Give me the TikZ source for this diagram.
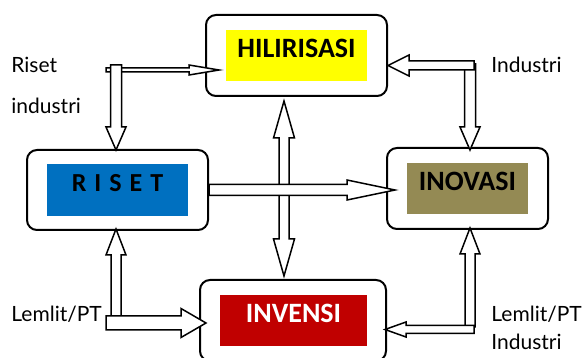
\documentclass[tikz,border=0pt]{standalone}
\usepackage{fontspec}
\setmainfont{Lato}
\newfontfamily\boxfont{Carlito}
\usetikzlibrary{calc, positioning}

\definecolor{hilirfill}{HTML}{FFFF00}
\definecolor{risetfill}{HTML}{0070C0}
\definecolor{inovfill}{HTML}{948A54}
\definecolor{invenfill}{HTML}{C00000}

% block arrow: #1 -> #2, shaft half width #3, head half width #4, head length #5
\newcommand{\blkarrow}[5]{%
  \coordinate (hb) at ($(#2)!#5!(#1)$);
  \draw[blk] ($(#1)!#3!90:(#2)$) -- ($(hb)!#3!90:(#2)$) -- ($(hb)!#4!90:(#2)$) -- (#2)
    -- ($(hb)!#4!-90:(#2)$) -- ($(hb)!#3!-90:(#2)$) -- ($(#1)!#3!-90:(#2)$) -- cycle;
}
% block arrow with two heads
\newcommand{\blkdarrow}[5]{%
  \coordinate (ha) at ($(#1)!#5!(#2)$);
  \coordinate (hb) at ($(#2)!#5!(#1)$);
  \draw[blk] (#1) -- ($(ha)!#4!90:(#2)$) -- ($(ha)!#3!90:(#2)$) -- ($(hb)!#3!90:(#2)$)
    -- ($(hb)!#4!90:(#2)$) -- (#2) -- ($(hb)!#4!-90:(#2)$) -- ($(hb)!#3!-90:(#2)$)
    -- ($(ha)!#3!-90:(#2)$) -- ($(ha)!#4!-90:(#2)$) -- cycle;
}

\begin{document}
\begin{tikzpicture}[x=0.5pt, y=-0.5pt,
    outer/.style={draw, line width=1pt, rounded corners=5pt, inner sep=0pt},
    inner/.style={inner sep=0pt, font=\boxfont\bfseries\fontsize{14}{16}\selectfont,
      text height=9pt, text depth=7pt},
    blk/.style={draw, fill=white, line width=0.75pt, line join=miter},
    lbl/.style={anchor=base west, inner sep=0pt, font=\fontsize{10.5}{12}\selectfont}]
    \useasboundingbox (0,0) rectangle (585,358);

    % kotak
    \node[outer, minimum width=90.5pt, minimum height=40.5pt] (hilir) at (296.5,55.5) {};
    \node[outer, minimum width=90.5pt, minimum height=40pt] (riset) at (117.5,190) {};
    \node[outer, minimum width=80.5pt, minimum height=40.5pt] (inov) at (467.5,188.5) {};
    \node[outer, minimum width=93pt, minimum height=40.5pt] (inven) at (293,320.5) {};

    \node[inner, fill=hilirfill, minimum width=70.5pt, minimum height=25.5pt] (hilirin) at (hilir) {HILIRISASI};
    \node[inner, fill=risetfill, minimum width=70.5pt, minimum height=26pt,
      font=\boxfont\bfseries\fontsize{13}{15}\selectfont] (risetin) at (riset)
      {R\hspace{4pt}I\hspace{4pt}S\hspace{4pt}E\hspace{4pt}T};
    \node[inner, fill=inovfill, minimum width=60.5pt, minimum height=25.5pt] (inovin) at (inov) {INOVASI};
    \node[inner, fill=invenfill, text=white, minimum width=73.5pt, minimum height=25.5pt] (invenin) at ([xshift=0.25pt]inven) {INVENSI};

    % label
    \node[lbl] (lriset) at (11,73) {Riset};
    \node[lbl] (lindus) at (11,114) {industri};
    \node[lbl] (rindus) at (491,73) {Industri};
    \node[lbl] (llemlit) at (11,322) {Lemlit/PT};
    \node[lbl] (rlemlit) at (491,322) {Lemlit/PT};
    \node[lbl] (rindus2) at (491,350) {Industri};

    % titik sudut panah
    \coordinate (ri1) at (106,70);
    \coordinate (ri2) at (116,65);
    \coordinate (in1) at (474,65.5);
    \coordinate (in2) at (470,64);
    \coordinate (lp1) at (116,320);
    \coordinate (lp2) at (106,323);
    \coordinate (li1) at (470,327);
    \coordinate (li2) at (474,329.5);

    \coordinate (t1) at ($(ri1 -| hilir.west)+(14,0)$);
    \coordinate (t2) at ($(ri2 |- riset.north)+(0,1)$);
    \coordinate (t3) at (in1 -| hilir.east);
    \coordinate (t4) at ($(in2 |- inov.north)+(0,3)$);
    \coordinate (ct) at ($(hilir.south)+(-12.5,4)$);
    \coordinate (cb) at ($(ct |- inven.north)+(0,-3)$);
    \coordinate (t5) at ($(riset.east -| inov.west)+(9,0)$);
    \coordinate (t6) at ($(lp1 |- riset.south)+(0,-2)$);
    \coordinate (t7) at ($(lp2 -| inven.west)+(7,0)$);
    \coordinate (t8) at ($(li1 |- inov.south)+(0,-2)$);
    \coordinate (t9) at ($(li2 -| inven.east)+(-2,0)$);

    % panah
    \blkarrow{ri1}{t1}{1pt}{2.5pt}{15pt}
    \blkarrow{ri2}{t2}{2.75pt}{5pt}{11.5pt}
    \blkarrow{in2}{t4}{2.75pt}{5pt}{11.5pt}
    \blkarrow{in1}{t3}{2.25pt}{5.25pt}{10.5pt}
    \blkdarrow{ct}{cb}{2.5pt}{5.25pt}{18.5pt}
    \blkarrow{riset.east}{t5}{2.75pt}{5pt}{24pt}
    \blkarrow{lp1}{t6}{2.5pt}{5pt}{13pt}
    \blkarrow{lp2}{t7}{3.5pt}{7.25pt}{12.5pt}
    \blkarrow{li1}{t8}{2.5pt}{5pt}{13pt}
    \blkarrow{li2}{t9}{2pt}{3.75pt}{10.5pt}
\end{tikzpicture}
\end{document}
